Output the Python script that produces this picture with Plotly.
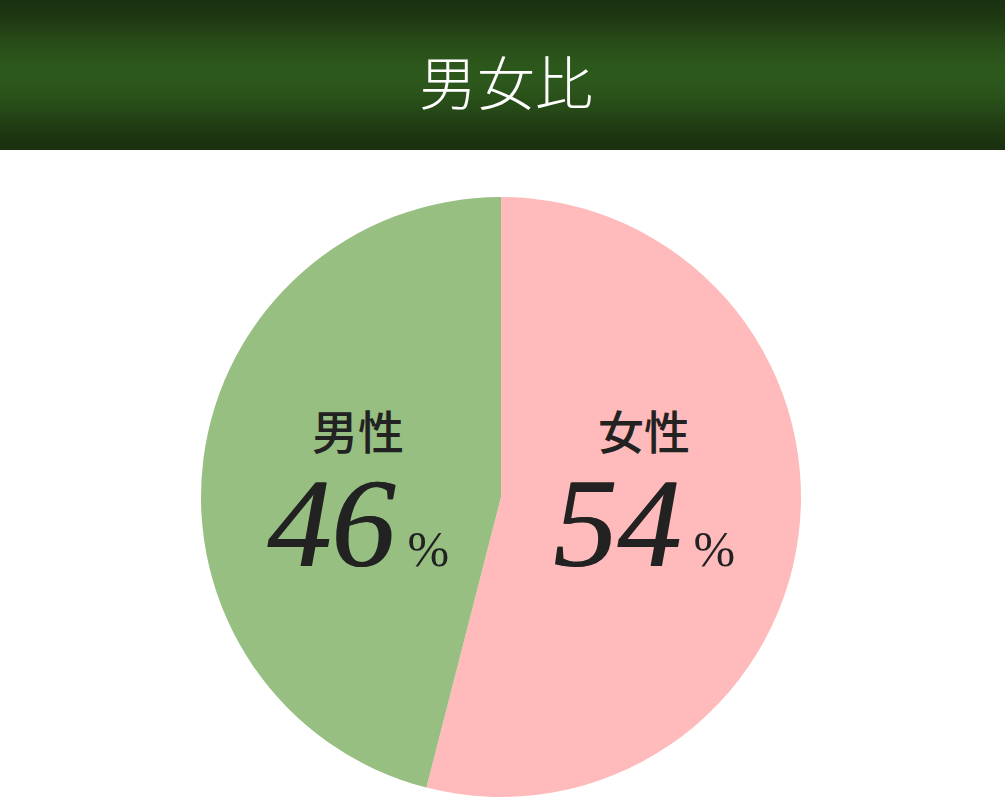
import math
import plotly.graph_objects as go

# data
labels = ['女性', '男性']
values = [54, 46]
colors = ['#FFBBBB', '#96BF81']
title = '男女比'

W, H = 1005, 798
HEADER = 150
CX, CY, R = 501, 497, 300   # pie centre / radius in px

fig = go.Figure(go.Pie(
    labels=labels,
    values=values,
    sort=False,
    direction='clockwise',
    rotation=0,
    marker=dict(colors=colors, line=dict(width=0)),
    textinfo='none',
    hoverinfo='skip',
    domain=dict(x=[(CX - R) / W, (CX + R) / W],
                y=[(H - CY - R) / H, (H - CY + R) / H]),
))

# header band, vertical gradient built from thin strips
top = (27, 49, 16)
mid = (45, 88, 28)
n = 75
shapes = []
for i in range(n):
    t = (i + 0.5) / n
    k = math.sin(math.pi * t) ** 1.6
    c = tuple(int(round(a + (b - a) * k)) for a, b in zip(top, mid))
    y0 = H - HEADER * i / n
    y1 = H - HEADER * (i + 1) / n
    shapes.append(dict(type='rect', xref='paper', yref='paper',
                       x0=0, x1=1, y0=y1 / H, y1=y0 / H + 0.0008,
                       fillcolor='rgb(%d,%d,%d)' % c, line=dict(width=0),
                       layer='below'))

annotations = [dict(text=title, x=0.503, y=(H - 80) / H, xref='paper', yref='paper',
                    showarrow=False, xanchor='center', yanchor='middle',
                    font=dict(family='Noto Sans CJK JP', size=58, color='white', weight=300))]

# slice labels placed along each slice's bisector (label + percentage in one text block)
lab_style = "font-family:'Noto Sans CJK JP';font-size:46px;font-weight:500;text-shadow:none"
pct_style = "font-size:50px;text-shadow:none"
start = 0.0
total = sum(values)
for lab, v in zip(labels, values):
    mid_ang = (start + v / 2) / total * 2 * math.pi
    start += v
    px = CX + 0.48 * R * math.sin(mid_ang)
    txt = ('<span style="%s">%s</span><br>'
           '<span style="font-size:128px"><i>%d</i></span>'
           '<span style="%s"> %%</span>') % (lab_style, lab, v, pct_style)
    annotations.append(dict(
        text=txt, x=px / W, y=(H - 495) / H, xref='paper', yref='paper',
        showarrow=False, xanchor='center', yanchor='middle', align='center',
        font=dict(family='Liberation Serif', size=90, color='#222222',
                  shadow='1.2px 0 0 #222222')))

fig.update_layout(
    width=W, height=H,
    margin=dict(l=0, r=0, t=0, b=0),
    paper_bgcolor='white',
    showlegend=False,
    shapes=shapes,
    annotations=annotations,
)

fig.write_html('out.html', config={'displayModeBar': False},
               post_script="document.body.style.margin='0';")
